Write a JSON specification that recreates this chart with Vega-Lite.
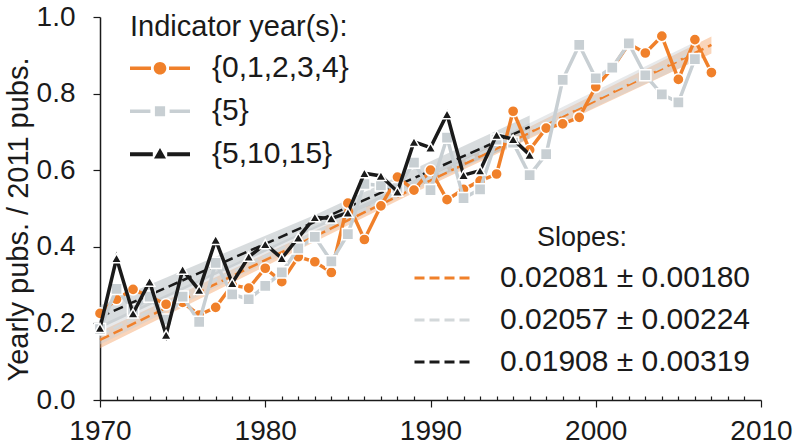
{
  "$schema": "https://vega.github.io/schema/vega-lite/v6.json",
  "width": 661,
  "height": 383,
  "autosize": "none",
  "padding": {"left": 100, "top": 17, "right": 32, "bottom": 45},
  "background": "white",
  "config": {"view": {"stroke": null}, "font": "Liberation Sans"},
  "datasets": {
    "fits": [
      {"f": "0.02081 ± 0.00180", "year": 1970, "v": 0.157, "lo": 0.135, "hi": 0.179},
      {"f": "0.02081 ± 0.00180", "year": 1988.5, "v": 0.542, "lo": 0.531, "hi": 0.553},
      {"f": "0.02081 ± 0.00180", "year": 2007, "v": 0.927, "lo": 0.905, "hi": 0.949},
      {"f": "0.02057 ± 0.00224", "year": 1970, "v": 0.17, "lo": 0.145, "hi": 0.195},
      {"f": "0.02057 ± 0.00224", "year": 1988, "v": 0.54, "lo": 0.527, "hi": 0.553},
      {"f": "0.02057 ± 0.00224", "year": 2006, "v": 0.91, "lo": 0.885, "hi": 0.935},
      {"f": "0.01908 ± 0.00319", "year": 1970, "v": 0.217, "lo": 0.187, "hi": 0.247},
      {"f": "0.01908 ± 0.00319", "year": 1983, "v": 0.465, "lo": 0.447, "hi": 0.483},
      {"f": "0.01908 ± 0.00319", "year": 1996, "v": 0.713, "lo": 0.683, "hi": 0.743}
    ],
    "pts": [
      {"s": "{0,1,2,3,4}", "year": 1970, "v": 0.226},
      {"s": "{0,1,2,3,4}", "year": 1971, "v": 0.263},
      {"s": "{0,1,2,3,4}", "year": 1972, "v": 0.289},
      {"s": "{0,1,2,3,4}", "year": 1973, "v": 0.27},
      {"s": "{0,1,2,3,4}", "year": 1974, "v": 0.25},
      {"s": "{0,1,2,3,4}", "year": 1975, "v": 0.255},
      {"s": "{0,1,2,3,4}", "year": 1976, "v": 0.222},
      {"s": "{0,1,2,3,4}", "year": 1977, "v": 0.242},
      {"s": "{0,1,2,3,4}", "year": 1978, "v": 0.3},
      {"s": "{0,1,2,3,4}", "year": 1979, "v": 0.292},
      {"s": "{0,1,2,3,4}", "year": 1980, "v": 0.344},
      {"s": "{0,1,2,3,4}", "year": 1981, "v": 0.309},
      {"s": "{0,1,2,3,4}", "year": 1982, "v": 0.374},
      {"s": "{0,1,2,3,4}", "year": 1983, "v": 0.361},
      {"s": "{0,1,2,3,4}", "year": 1984, "v": 0.333},
      {"s": "{0,1,2,3,4}", "year": 1985, "v": 0.514},
      {"s": "{0,1,2,3,4}", "year": 1986, "v": 0.419},
      {"s": "{0,1,2,3,4}", "year": 1987, "v": 0.507},
      {"s": "{0,1,2,3,4}", "year": 1988, "v": 0.582},
      {"s": "{0,1,2,3,4}", "year": 1989, "v": 0.548},
      {"s": "{0,1,2,3,4}", "year": 1990, "v": 0.6},
      {"s": "{0,1,2,3,4}", "year": 1991, "v": 0.523},
      {"s": "{0,1,2,3,4}", "year": 1992, "v": 0.55},
      {"s": "{0,1,2,3,4}", "year": 1993, "v": 0.572},
      {"s": "{0,1,2,3,4}", "year": 1994, "v": 0.59},
      {"s": "{0,1,2,3,4}", "year": 1995, "v": 0.754},
      {"s": "{0,1,2,3,4}", "year": 1996, "v": 0.653},
      {"s": "{0,1,2,3,4}", "year": 1997, "v": 0.71},
      {"s": "{0,1,2,3,4}", "year": 1998, "v": 0.721},
      {"s": "{0,1,2,3,4}", "year": 1999, "v": 0.738},
      {"s": "{0,1,2,3,4}", "year": 2000, "v": 0.818},
      {"s": "{0,1,2,3,4}", "year": 2001, "v": 0.866},
      {"s": "{0,1,2,3,4}", "year": 2002, "v": 0.93},
      {"s": "{0,1,2,3,4}", "year": 2003, "v": 0.906},
      {"s": "{0,1,2,3,4}", "year": 2004, "v": 0.95},
      {"s": "{0,1,2,3,4}", "year": 2005, "v": 0.837},
      {"s": "{0,1,2,3,4}", "year": 2006, "v": 0.941},
      {"s": "{0,1,2,3,4}", "year": 2007, "v": 0.855},
      {"s": "{5}", "year": 1970, "v": 0.185},
      {"s": "{5}", "year": 1971, "v": 0.29},
      {"s": "{5}", "year": 1972, "v": 0.235},
      {"s": "{5}", "year": 1973, "v": 0.27},
      {"s": "{5}", "year": 1974, "v": 0.21},
      {"s": "{5}", "year": 1975, "v": 0.27},
      {"s": "{5}", "year": 1976, "v": 0.204},
      {"s": "{5}", "year": 1977, "v": 0.358},
      {"s": "{5}", "year": 1978, "v": 0.276},
      {"s": "{5}", "year": 1979, "v": 0.263},
      {"s": "{5}", "year": 1980, "v": 0.298},
      {"s": "{5}", "year": 1981, "v": 0.333},
      {"s": "{5}", "year": 1982, "v": 0.396},
      {"s": "{5}", "year": 1983, "v": 0.426},
      {"s": "{5}", "year": 1984, "v": 0.362},
      {"s": "{5}", "year": 1985, "v": 0.433},
      {"s": "{5}", "year": 1986, "v": 0.564},
      {"s": "{5}", "year": 1987, "v": 0.56},
      {"s": "{5}", "year": 1988, "v": 0.553},
      {"s": "{5}", "year": 1989, "v": 0.62},
      {"s": "{5}", "year": 1990, "v": 0.548},
      {"s": "{5}", "year": 1991, "v": 0.685},
      {"s": "{5}", "year": 1992, "v": 0.527},
      {"s": "{5}", "year": 1993, "v": 0.55},
      {"s": "{5}", "year": 1994, "v": 0.68},
      {"s": "{5}", "year": 1995, "v": 0.672},
      {"s": "{5}", "year": 1996, "v": 0.587},
      {"s": "{5}", "year": 1997, "v": 0.642},
      {"s": "{5}", "year": 1998, "v": 0.836},
      {"s": "{5}", "year": 1999, "v": 0.927},
      {"s": "{5}", "year": 2000, "v": 0.84},
      {"s": "{5}", "year": 2001, "v": 0.868},
      {"s": "{5}", "year": 2002, "v": 0.931},
      {"s": "{5}", "year": 2003, "v": 0.848},
      {"s": "{5}", "year": 2004, "v": 0.798},
      {"s": "{5}", "year": 2005, "v": 0.777},
      {"s": "{5}", "year": 2006, "v": 0.89},
      {"s": "{5,10,15}", "year": 1970, "v": 0.188},
      {"s": "{5,10,15}", "year": 1971, "v": 0.37},
      {"s": "{5,10,15}", "year": 1972, "v": 0.226},
      {"s": "{5,10,15}", "year": 1973, "v": 0.309},
      {"s": "{5,10,15}", "year": 1974, "v": 0.17},
      {"s": "{5,10,15}", "year": 1975, "v": 0.34},
      {"s": "{5,10,15}", "year": 1976, "v": 0.287},
      {"s": "{5,10,15}", "year": 1977, "v": 0.418},
      {"s": "{5,10,15}", "year": 1978, "v": 0.305},
      {"s": "{5,10,15}", "year": 1979, "v": 0.374},
      {"s": "{5,10,15}", "year": 1980, "v": 0.407},
      {"s": "{5,10,15}", "year": 1981, "v": 0.37},
      {"s": "{5,10,15}", "year": 1982, "v": 0.424},
      {"s": "{5,10,15}", "year": 1983, "v": 0.477},
      {"s": "{5,10,15}", "year": 1984, "v": 0.474},
      {"s": "{5,10,15}", "year": 1985, "v": 0.489},
      {"s": "{5,10,15}", "year": 1986, "v": 0.592},
      {"s": "{5,10,15}", "year": 1987, "v": 0.585},
      {"s": "{5,10,15}", "year": 1988, "v": 0.544},
      {"s": "{5,10,15}", "year": 1989, "v": 0.674},
      {"s": "{5,10,15}", "year": 1990, "v": 0.659},
      {"s": "{5,10,15}", "year": 1991, "v": 0.746},
      {"s": "{5,10,15}", "year": 1992, "v": 0.587},
      {"s": "{5,10,15}", "year": 1993, "v": 0.599},
      {"s": "{5,10,15}", "year": 1994, "v": 0.692},
      {"s": "{5,10,15}", "year": 1995, "v": 0.681},
      {"s": "{5,10,15}", "year": 1996, "v": 0.64}
    ]
  },
  "encoding": {
    "x": {
      "field": "year", "type": "quantitative",
      "scale": {"domain": [1970, 2010], "nice": false, "zero": false},
      "axis": {
        "title": null, "grid": false,
        "values": [1970,1971,1972,1973,1974,1975,1976,1977,1978,1979,1980,1981,1982,1983,1984,1985,1986,1987,1988,1989,1990,1991,1992,1993,1994,1995,1996,1997,1998,1999,2000,2001,2002,2003,2004,2005,2006,2007,2008,2009,2010],
        "format": "d",
        "labelExpr": "datum.value % 10 === 0 ? datum.label : ''",
        "tickSize": {"condition": {"test": "datum.value % 10 === 0", "value": 7}, "value": -4},
        "labelPadding": 10, "labelFontSize": 28, "labelFont": "Liberation Sans", "labelColor": "#1a1a1a",
        "labelOverlap": false, "labelFlush": false, "labelBound": false,
        "domainColor": "#1a1a1a", "domainWidth": 1.5, "tickColor": "#1a1a1a", "tickWidth": 1.2
      }
    },
    "y": {"field": "v", "type": "quantitative", "scale": {"domain": [0, 1], "nice": false},
      "axis": {"title": "Yearly pubs. / 2011 pubs.", "grid": false, "values": [0, 0.2, 0.4, 0.6, 0.8, 1.0], "format": ".1f", "tickSize": 7, "labelPadding": 18, "labelFontSize": 28, "labelFont": "Liberation Sans", "labelColor": "#1a1a1a", "domainColor": "#1a1a1a", "domainWidth": 1.5, "tickColor": "#1a1a1a", "tickWidth": 1.2, "titleFont": "Liberation Sans", "titleFontSize": 29, "titleFontWeight": "normal", "titleColor": "#1a1a1a", "titleX": -73, "titleY": 202, "titleAngle": -90, "titleAlign": "center", "titleBaseline": "alphabetic"}}
  },
  "layer": [
    {
      "data": {"name": "fits"},
      "transform": [{"filter": "datum.f === '0.02081 ± 0.00180'"}],
      "mark": {"type": "area", "fill": "#f5a266", "fillOpacity": 0.45},
      "encoding": {"y": {"field": "lo", "type": "quantitative", "scale": {"domain": [0, 1], "nice": false},
        "axis": {"title": "Yearly pubs. / 2011 pubs.", "grid": false, "values": [0, 0.2, 0.4, 0.6, 0.8, 1.0], "format": ".1f", "tickSize": 7, "labelPadding": 18, "labelFontSize": 28, "labelFont": "Liberation Sans", "labelColor": "#1a1a1a", "domainColor": "#1a1a1a", "domainWidth": 1.5, "tickColor": "#1a1a1a", "tickWidth": 1.2, "titleFont": "Liberation Sans", "titleFontSize": 29, "titleFontWeight": "normal", "titleColor": "#1a1a1a", "titleX": -73, "titleY": 202, "titleAngle": -90, "titleAlign": "center", "titleBaseline": "alphabetic"}},
        "y2": {"field": "hi"}}
    },
    {
      "data": {"name": "fits"},
      "transform": [{"filter": "datum.f === '0.02057 ± 0.00224'"}],
      "mark": {"type": "area", "fill": "#c9cfd2", "fillOpacity": 0.45},
      "encoding": {"y": {"field": "lo", "type": "quantitative", "scale": {"domain": [0, 1], "nice": false},
        "axis": {"title": "Yearly pubs. / 2011 pubs.", "grid": false, "values": [0, 0.2, 0.4, 0.6, 0.8, 1.0], "format": ".1f", "tickSize": 7, "labelPadding": 18, "labelFontSize": 28, "labelFont": "Liberation Sans", "labelColor": "#1a1a1a", "domainColor": "#1a1a1a", "domainWidth": 1.5, "tickColor": "#1a1a1a", "tickWidth": 1.2, "titleFont": "Liberation Sans", "titleFontSize": 29, "titleFontWeight": "normal", "titleColor": "#1a1a1a", "titleX": -73, "titleY": 202, "titleAngle": -90, "titleAlign": "center", "titleBaseline": "alphabetic"}},
        "y2": {"field": "hi"}}
    },
    {
      "data": {"name": "fits"},
      "transform": [{"filter": "datum.f === '0.01908 ± 0.00319'"}],
      "mark": {"type": "area", "fill": "#a9b1b5", "fillOpacity": 0.45},
      "encoding": {"y": {"field": "lo", "type": "quantitative", "scale": {"domain": [0, 1], "nice": false},
        "axis": {"title": "Yearly pubs. / 2011 pubs.", "grid": false, "values": [0, 0.2, 0.4, 0.6, 0.8, 1.0], "format": ".1f", "tickSize": 7, "labelPadding": 18, "labelFontSize": 28, "labelFont": "Liberation Sans", "labelColor": "#1a1a1a", "domainColor": "#1a1a1a", "domainWidth": 1.5, "tickColor": "#1a1a1a", "tickWidth": 1.2, "titleFont": "Liberation Sans", "titleFontSize": 29, "titleFontWeight": "normal", "titleColor": "#1a1a1a", "titleX": -73, "titleY": 202, "titleAngle": -90, "titleAlign": "center", "titleBaseline": "alphabetic"}},
        "y2": {"field": "hi"}}
    },
    {
      "data": {"name": "fits"},
      "mark": {"type": "line", "strokeDash": [10, 5], "strokeWidth": 2.5},
      "encoding": {
        "stroke": {"field": "f", "type": "nominal",
          "scale": {"domain": ["0.02081 ± 0.00180", "0.02057 ± 0.00224", "0.01908 ± 0.00319"], "range": ["#f0802a", "#d3d8da", "#1a1a1a"]},
          "legend": {"title": "Slopes:", "orient": "none", "legendX": 313, "legendY": 208, "padding": 0,
            "titleFont": "Liberation Sans", "titleFontSize": 27, "titleFontWeight": "normal", "titleColor": "#1a1a1a", "titleAnchor": "middle", "titlePadding": 5, "titleLimit": 500,
            "labelFont": "Liberation Sans", "labelFontSize": 30, "labelColor": "#1a1a1a", "labelOffset": 24, "labelLimit": 500,
            "symbolType": "stroke", "symbolSize": 3600, "symbolStrokeWidth": 3, "symbolDash": [10, 5], "clipHeight": 42, "rowPadding": 0}
        }
      }
    },
    {
      "data": {"name": "pts"},
      "encoding": {
        "color": {"field": "s", "type": "nominal",
          "scale": {"domain": ["{0,1,2,3,4}", "{5}", "{5,10,15}"], "range": ["#f0802a", "#c8cfd3", "#1a1a1a"]},
          "legend": {"title": "Indicator year(s):", "orient": "none", "legendX": 30, "legendY": -4, "padding": 0,
            "titleFont": "Liberation Sans", "titleFontSize": 29, "titleFontWeight": "normal", "titleColor": "#1a1a1a", "titleAnchor": "start", "titlePadding": 5, "titleLimit": 500,
            "labelFont": "Liberation Sans", "labelFontSize": 30, "labelColor": "#1a1a1a", "labelOffset": 22, "labelLimit": 500,
            "symbolSize": 3600, "clipHeight": 42.5, "rowPadding": 0,
            "encode": {"symbols": {"update": {
              "shape": {"signal": "datum.value === '{0,1,2,3,4}' ? 'M-1,-0.06L-0.3,-0.06L-0.3,0.06L-1,0.06Z M0.3,-0.06L1,-0.06L1,0.06L0.3,0.06Z M-0.21,0C-0.21,-0.116 -0.116,-0.21 0,-0.21C0.116,-0.21 0.21,-0.116 0.21,0C0.21,0.116 0.116,0.21 0,0.21C-0.116,0.21 -0.21,0.116 -0.21,0Z' : datum.value === '{5}' ? 'M-1,-0.06L-0.32,-0.06L-0.32,0.06L-1,0.06Z M0.32,-0.06L1,-0.06L1,0.06L0.32,0.06Z M-0.17,-0.17L0.17,-0.17L0.17,0.17L-0.17,0.17Z' : 'M-1,-0.07L-0.24,-0.07L-0.24,0.07L-1,0.07Z M0.24,-0.07L1,-0.07L1,0.07L0.24,0.07Z M0,-0.21L0.2,0.14L-0.2,0.14Z'"},
              "fill": {"scale": "color", "field": "value"},
              "stroke": {"value": "transparent"},
              "strokeWidth": {"value": 0},
              "size": {"value": 3600},
              "opacity": {"value": 1}
            }}}
          }
        }
      },
      "layer": [
        {"transform": [{"filter": "datum.s === '{0,1,2,3,4}'"}], "mark": {"type": "line", "strokeWidth": 3.5}},
        {"transform": [{"filter": "datum.s === '{0,1,2,3,4}'"}], "mark": {"type": "point", "shape": "circle", "filled": true, "size": 125, "stroke": "white", "strokeWidth": 1.5, "opacity": 1}},
        {"transform": [{"filter": "datum.s === '{5}'"}], "mark": {"type": "line", "strokeWidth": 3.5}},
        {"transform": [{"filter": "datum.s === '{5}'"}], "mark": {"type": "point", "shape": "square", "filled": true, "size": 125, "stroke": "white", "strokeWidth": 1.5, "opacity": 1}},
        {"transform": [{"filter": "datum.s === '{5,10,15}'"}], "mark": {"type": "line", "strokeWidth": 3.5}},
        {"transform": [{"filter": "datum.s === '{5,10,15}'"}], "mark": {"type": "point", "shape": "triangle-up", "filled": true, "size": 110, "stroke": "white", "strokeWidth": 1.5, "opacity": 1}}
      ]
    }
  ]
}
